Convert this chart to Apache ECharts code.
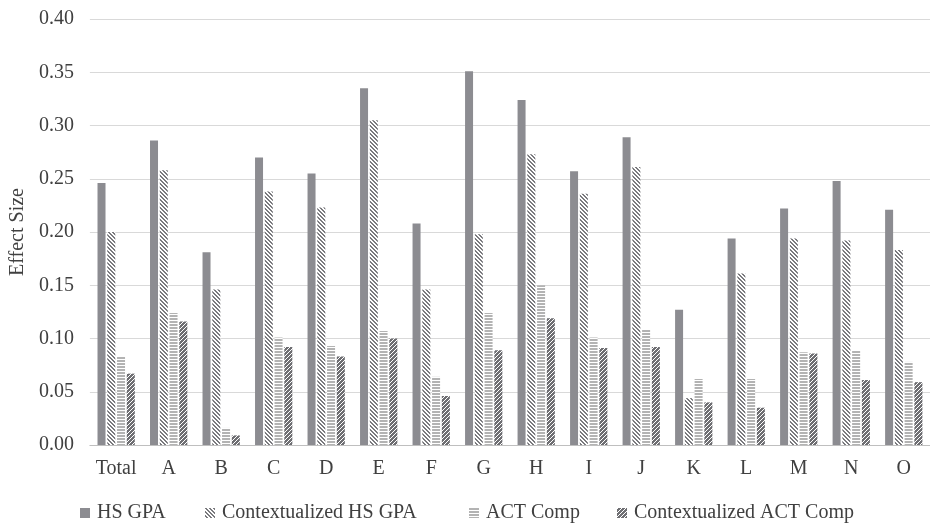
<!DOCTYPE html>
<html>
<head>
<meta charset="utf-8">
<script src="https://cdn.jsdelivr.net/npm/echarts@6/dist/echarts.min.js"></script>
<style>html,body{margin:0;padding:0;background:#fff}#c{width:930px;height:525px}</style>
</head>
<body>
<div id="c"></div>
<script>
const categories = ['Total','A','B','C','D','E','F','G','H','I','J','K','L','M','N','O'];
const seriesNames = ['HS GPA','Contextualized HS GPA','ACT Comp','Contextualized ACT Comp'];
const hsGpa      = [0.246,0.286,0.181,0.270,0.255,0.335,0.208,0.351,0.324,0.257,0.289,0.127,0.194,0.222,0.248,0.221];
const ctxHsGpa   = [0.200,0.258,0.146,0.238,0.223,0.305,0.146,0.198,0.273,0.236,0.261,0.044,0.161,0.194,0.192,0.183];
const actComp    = [0.083,0.124,0.016,0.101,0.093,0.107,0.064,0.124,0.150,0.101,0.109,0.062,0.062,0.087,0.089,0.078];
const ctxActComp = [0.067,0.116,0.009,0.092,0.083,0.100,0.046,0.089,0.119,0.091,0.092,0.040,0.035,0.086,0.061,0.059];
const yTicks = ['0.00','0.05','0.10','0.15','0.20','0.25','0.30','0.35','0.40'];

function tile(w, h, fn) {
  const c = document.createElement('canvas');
  c.width = w; c.height = h;
  const ctx = c.getContext('2d');
  for (let y = 0; y < h; y++) for (let x = 0; x < w; x++) {
    ctx.fillStyle = fn(x, y);
    ctx.fillRect(x, y, 1, 1);
  }
  return c;
}
const patCtxHs = tile(4, 4, (x, y) => (((x - y) % 4 + 4) % 4 < 2) ? '#7a7a7e' : '#ffffff');
const patAct = tile(3, 3, (x, y) => (y < 2) ? '#b3b3b3' : '#ffffff');
const patCtxAct = tile(4, 4, (x, y) => (((x + y) % 4) === 0) ? '#ffffff' : '#6e6e72');

const fills = [
  '#8c8c91',
  {image: patCtxHs, repeat: 'repeat'},
  {image: patAct, repeat: 'repeat'},
  {image: patCtxAct, repeat: 'repeat'}
];
const dataArr = [hsGpa, ctxHsGpa, actComp, ctxActComp];
const font = '"Liberation Serif", "Times New Roman", serif';
const legendLefts = [80, 205, 469, 617];
const FS = 20;

const chart = echarts.init(document.getElementById('c'), null, {renderer: 'canvas'});
chart.setOption({
  animation: false,
  backgroundColor: '#ffffff',
  textStyle: {fontFamily: font},
  grid: {left: 89, right: -12, top: 19, bottom: 80, containLabel: false},
  legend: seriesNames.map((n, i) => ({
    data: [n],
    left: legendLefts[i],
    top: 503,
    icon: 'rect',
    itemWidth: 10,
    itemHeight: 10,
    padding: 0,
    textStyle: {fontFamily: font, fontSize: FS, color: '#404040', padding: [0, 0, 0, 2]}
  })),
  xAxis: {
    type: 'category',
    data: categories,
    axisLine: {lineStyle: {color: '#bfbfbf', width: 1}},
    axisTick: {show: false},
    axisLabel: {fontFamily: font, fontSize: FS, color: '#404040', margin: 14, interval: 0, hideOverlap: false}
  },
  yAxis: {
    type: 'value',
    min: 0, max: 0.4, interval: 0.05,
    name: 'Effect Size',
    nameLocation: 'middle',
    nameGap: 60,
    nameTextStyle: {fontFamily: font, fontSize: FS, color: '#404040'},
    axisLine: {show: false},
    axisTick: {show: false},
    splitLine: {lineStyle: {color: '#d9d9d9', width: 1}},
    axisLabel: {fontFamily: font, fontSize: FS, color: '#404040', margin: 16,
      formatter: v => yTicks[Math.round(v / 0.05)]}
  },
  series: seriesNames.map((n, i) => ({
    name: n,
    type: 'bar',
    data: dataArr[i],
    barWidth: 8,
    barGap: '22%',
    itemStyle: {color: fills[i]}
  }))
});
</script>
</body>
</html>
